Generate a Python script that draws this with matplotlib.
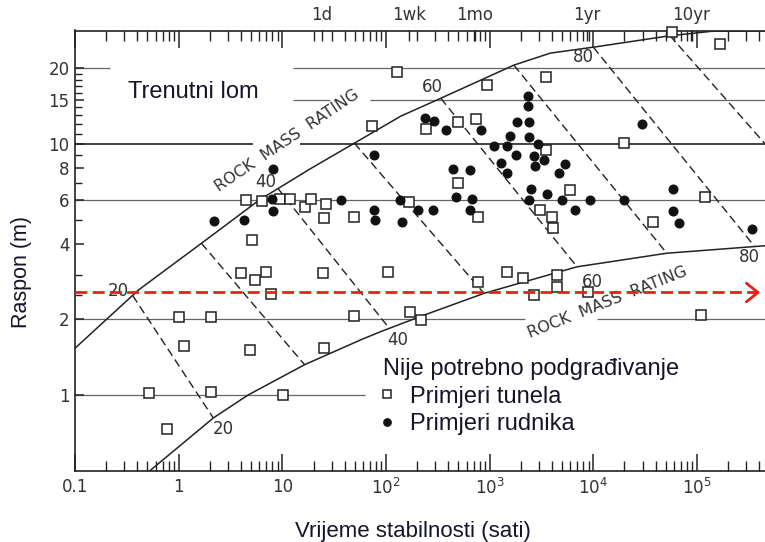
import numpy as np
import matplotlib.pyplot as plt
from matplotlib.ticker import FixedLocator, LogLocator, NullFormatter, NullLocator

# primjeri tunela: vrijeme stabilnosti (h), raspon (m)
tunnel_t = [0.52, 0.77, 1.0, 1.12, 2.05, 2.06, 3.97, 5.15, 5.5, 6.97, 7.8, 4.9, 10.2,
            16.5, 25, 26.5, 24.5, 25.5, 49, 49.5, 4.44, 6.43, 9.6, 11.9, 19, 73, 128, 104,
            950, 3530, 246, 495, 733, 495, 3470, 166, 778, 6010, 3050, 4010, 4100, 38000,
            119000, 20000, 166000, 57000, 772, 1480, 2110, 4480, 4480, 2670, 8810, 171, 217,
            109000]
tunnel_s = [1.02, 0.73, 2.05, 1.57, 2.05, 1.03, 3.07, 4.16, 2.86, 3.09, 2.53, 1.51, 1.0,
            5.6, 5.05, 5.77, 3.07, 1.54, 2.06, 5.1, 6.0, 5.93, 6.03, 6.03, 6.03, 11.8, 19.3, 3.1,
            17.1, 18.4, 11.5, 12.2, 12.6, 7.0, 9.5, 5.86, 5.1, 6.56, 5.48, 5.13, 4.61, 4.88,
            6.13, 10.1, 25, 28, 2.83, 3.1, 2.92, 3.0, 2.7, 2.5, 2.56, 2.15, 1.99,
            2.08]

# primjeri rudnika
mine_t = [2.2, 4.28, 8.2, 8.2, 7.96, 36.9, 76, 77, 78.5, 137, 142, 238, 291, 383, 825,
          444, 647, 474, 682, 202, 283, 647, 1100, 1480, 1590, 1820, 2390, 2330, 2330,
          2390, 2920, 1780, 1300, 1460, 2690, 2770, 3330, 5380, 4710, 2510, 3590, 2390,
          4990, 9220, 6710, 19600, 29400, 59100, 59100, 67100, 343000]
mine_s = [4.93, 4.98, 7.95, 5.41, 6.03, 6.0, 9.04, 5.46, 4.97, 6.0, 4.89, 12.7, 12.3, 11.4, 11.4,
          7.97, 7.88, 6.17, 6.03, 5.46, 5.46, 5.46, 9.8, 9.8, 10.8, 12.2, 12.2, 15.5, 14.1,
          10.7, 10.0, 9.04, 8.42, 7.69, 8.95, 8.2, 8.63, 8.32, 7.69, 6.64, 6.32, 6.0,
          6.0, 6.0, 5.46, 6.0, 12.0, 6.62, 5.41, 4.83, 4.57]

# granice (rock mass rating)
upper_t = [0.1, 0.41, 1.66, 6.0, 19.0, 49.6, 139, 338, 1714, 3860, 10860, 52500, 139000, 454000]
upper_s = [1.535, 2.62, 4.02, 5.98, 8.0, 10.07, 12.9, 15.2, 20.6, 23.0, 24.4, 26.9, 28.1, 28.2]
lower_t = [0.53, 2.16, 4.68, 16.4, 57.5, 89.6, 233, 883, 6970, 51200, 454000]
lower_s = [0.5, 0.81, 1.0, 1.32, 1.66, 1.79, 2.08, 2.54, 3.24, 3.67, 3.93]

# izolinije RMR
rmr_top_t = [0.36, 1.66, 9.1, 49.6, 338, 1714, 10000, 55000]
rmr_top_s = [2.49, 4.02, 6.64, 10.07, 15.2, 20.6, 24.3, 27.0]
rmr_bot_t = [2.16, 16.4, 108, 883, 6970, 51200, 361000, 3.2e6]
rmr_bot_s = [0.81, 1.32, 1.84, 2.54, 3.24, 3.67, 3.9, 4.0]

rmr_text = ['20', '20', '40', '40', '60', '60', '80', '80']
rmr_text_t = [0.26, 2.69, 7.0, 129, 281, 9720, 8070, 324000]
rmr_text_s = [2.60, 0.73, 7.08, 1.66, 16.9, 2.83, 22.1, 3.56]

# horizontalne linije (s prekidima oko natpisa)
XMAX = 10 ** 5.657
grid_y = [20, 20, 15, 15, 10, 10, 6, 2, 2, 1]
grid_x0 = [0.1, 12.6, 12.6, 70, 0.1, 14.8, 0.1, 0.1, 10870, 0.1]
grid_x1 = [0.216, XMAX, 28.7, XMAX, 5.19, XMAX, XMAX, 2190, XMAX, 62.5]

red_level = 2.56

x_ticks = [0.1, 1, 10, 100, 1e3, 1e4, 1e5]
x_labels = ['0.1', '1', '10', r'$\mathregular{10^2}$', r'$\mathregular{10^3}$',
            r'$\mathregular{10^4}$', r'$\mathregular{10^5}$']
y_ticks = [1, 2, 4, 6, 8, 10, 15, 20]
y_minor = [2.5, 3, 5, 7, 9, 11, 12, 13, 14, 16, 17, 18, 19]
top_ticks = [24, 168, 720, 8760, 87600]
top_labels = ['1d', '1wk', '1mo', '1yr', '10yr']

INK = '#222222'
TXT = '#15152a'
W, H = 765, 542

fig = plt.figure(figsize=(W / 100, H / 100), dpi=100)
ax = fig.add_axes([75 / W, 71 / H, 690 / W, 440.5 / H])
ax.set_xscale('log')
ax.set_yscale('log')
ax.set_xlim(0.1, XMAX)
ax.set_ylim(0.498, 28.3)

for y, x0, x1 in zip(grid_y, grid_x0, grid_x1):
    dark = y == 10
    ax.hlines(y, x0, x1, color='#333333' if dark else '#666666',
              lw=1.3 if dark else 0.9, zorder=1)

ax.plot(upper_t, upper_s, color=INK, lw=1.1, zorder=2)
ax.plot(lower_t, lower_s, color=INK, lw=1.1, zorder=2)
for i in range(len(rmr_top_t)):
    ax.plot([rmr_top_t[i], rmr_bot_t[i]], [rmr_top_s[i], rmr_bot_s[i]], color=INK,
            lw=1.0, linestyle=(0, (6, 3.2)), zorder=2)

for t, x, y in zip(rmr_text, rmr_text_t, rmr_text_s):
    ax.text(x, y, t, fontsize=12, color='#333333', ha='center', va='center', zorder=3)

ax.text(11.2, 10.3, 'ROCK  MASS  RATING', fontsize=11.5, color='#333333', rotation=34,
        ha='center', va='center', rotation_mode='anchor', zorder=3)
ax.text(13800, 2.34, 'ROCK  MASS  RATING', fontsize=11.5, color='#333333', rotation=21.7,
        ha='center', va='center', rotation_mode='anchor', zorder=3)

sq, = ax.plot(tunnel_t, tunnel_s, 's', ms=7.2, mfc='white', mec=INK, mew=1.1, ls='none',
              zorder=4, clip_on=False, label='Primjeri tunela')
dot, = ax.plot(mine_t, mine_s, 'o', ms=6.2, color='#111111', ls='none', zorder=4,
               label='Primjeri rudnika')

ax.axhline(red_level, xmin=0, xmax=0.985, color='#e8201c', lw=2.0,
           linestyle=(0, (4.3, 1.9)), zorder=5)
ax.annotate('', xy=(434000, red_level), xytext=(330000, red_level),
            arrowprops=dict(arrowstyle='->, head_length=0.35, head_width=0.28',
                            color='#e8201c', lw=2.0, mutation_scale=24), zorder=5)

# osi
ax.set_xticks(x_ticks, x_labels)
ax.xaxis.set_minor_locator(LogLocator(base=10, subs=np.arange(2, 10), numticks=20))
ax.xaxis.set_minor_formatter(NullFormatter())
ax.set_yticks(y_ticks, [str(v) for v in y_ticks])
ax.yaxis.set_minor_locator(FixedLocator(y_minor))
ax.yaxis.set_minor_formatter(NullFormatter())

ax.tick_params(axis='x', which='major', direction='in', length=12, width=1.1, top=True,
               pad=5, labelsize=12, labelcolor='#333333', color=INK)
ax.tick_params(axis='x', which='minor', direction='in', length=7.5, width=1.0, top=True,
               color=INK)
ax.tick_params(axis='y', which='major', direction='in', length=6.5, width=1.1, right=False,
               pad=4, labelsize=12, labelcolor='#333333', color=INK)
ax.tick_params(axis='y', which='minor', direction='in', length=4.8, width=1.0, right=False,
               color=INK)
ax.spines['right'].set_visible(False)
for side in ['left', 'bottom', 'top']:
    ax.spines[side].set_color(INK)
    ax.spines[side].set_linewidth(1.2)

top = ax.secondary_xaxis('top')
top.set_xticks(top_ticks, top_labels)
top.xaxis.set_minor_locator(NullLocator())
top.tick_params(axis='x', direction='in', length=8, width=1.0, pad=5, labelsize=12,
                labelcolor='#333333', color=INK)
top.spines['top'].set_visible(False)

lab = {'family': 'Liberation Sans', 'size': 17}
fig.text(128 / W, 1 - 98 / H, 'Trenutni lom', va='baseline', ha='left', color=TXT, **lab)
fig.text(22 / W, 1 - 272 / H, 'Raspon (m)', rotation=90, ha='center', va='center',
         color=TXT, family='Liberation Sans', size=15.5)
fig.text(413 / W, 1 - 537 / H, 'Vrijeme stabilnosti (sati)', ha='center', va='baseline',
         color=TXT, family='Liberation Sans', size=16)

leg = ax.legend(handles=[sq, dot], loc='upper left', bbox_to_anchor=(383 / W, 1 - 358 / H),
                bbox_transform=fig.transFigure, frameon=False,
                title='Nije potrebno podgrađivanje', alignment='left',
                handlelength=0.3, handletextpad=0.85, labelspacing=0.24, borderpad=0,
                borderaxespad=0, prop=lab, title_fontproperties=lab, markerscale=0.85)
leg.get_title().set_color(TXT)
for t in leg.get_texts():
    t.set_color(TXT)

fig.savefig('out.png', dpi=100)
